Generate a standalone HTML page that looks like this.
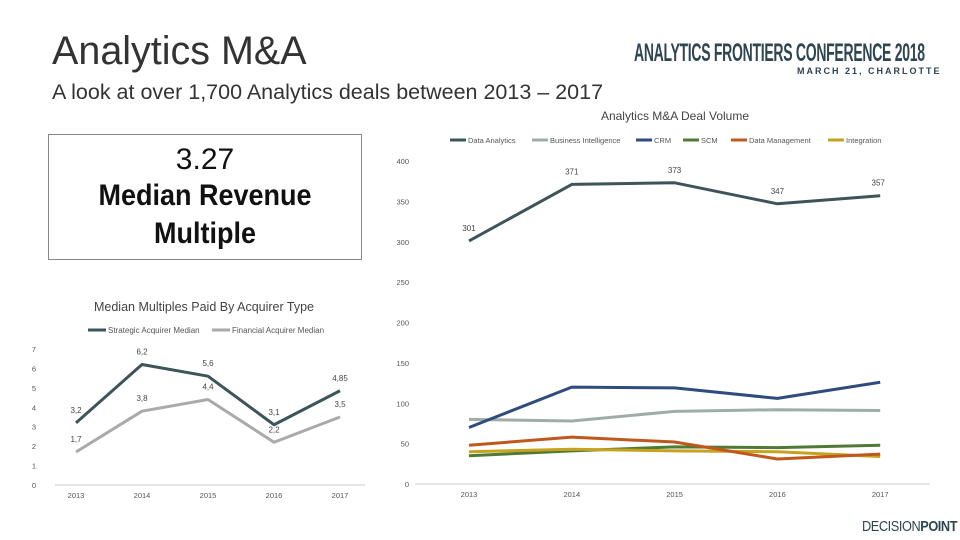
<!DOCTYPE html>
<html><head><meta charset="utf-8"><style>
body{margin:0;width:960px;height:540px;background:#fff;overflow:hidden;font-family:"Liberation Sans",sans-serif;position:relative}
.t{position:absolute;white-space:nowrap}
</style></head><body>
<div class="t" style="left:52px;top:29px;font-size:39.5px;color:#333">Analytics M&amp;A</div>
<div class="t" style="left:52px;top:80px;font-size:21.5px;color:#333">A look at over 1,700 Analytics deals between 2013 – 2017</div>
<div class="t" style="left:634px;top:39px;font-size:25px;font-weight:bold;color:#2f4550;letter-spacing:-0.5px;transform:scaleX(0.56);transform-origin:left">ANALYTICS FRONTIERS CONFERENCE 2018</div>
<div class="t" style="left:797px;top:66px;font-size:9px;font-weight:bold;color:#2f4550;letter-spacing:2px">MARCH 21, CHARLOTTE</div>
<div style="position:absolute;left:48px;top:134px;width:312px;height:124px;border:1px solid #888;text-align:center;color:#111">
<div style="font-size:30px;margin-top:8px">3.27</div>
<div style="font-size:30px;line-height:38px;font-weight:bold;transform:scaleX(0.9)">Median Revenue<br>Multiple</div>
</div>
<div class="t" style="left:862px;top:518px;font-size:15px;color:#2f4550;letter-spacing:-0.5px;transform:scaleX(0.85);transform-origin:left">DECISION<b>POINT</b></div>
<svg id="s" width="960" height="540" style="position:absolute;left:0;top:0" font-family="Liberation Sans, sans-serif"></svg>
<script>
const years=["2013","2014","2015","2016","2017"];
const strategic=[3.2,6.2,5.6,3.1,4.85];
const financial=[1.7,3.8,4.4,2.2,3.5];
const strategicLabels=["3,2","6,2","5,6","3,1","4,85"];
const financialLabels=["1,7","3,8","4,4","2,2","3,5"];
const leftTicks=[0,1,2,3,4,5,6,7];
const dataAnalytics=[301,371,373,347,357];
const bi=[80,78,90,92,91];
const crm=[70,120,119,106,126];
const scm=[35,41,46,45,48];
const dataMgmt=[48,58,52,31,37];
const integration=[40,43,41,40,34];
const rightTicks=[0,50,100,150,200,250,300,350,400];
const NS="http://www.w3.org/2000/svg";
const svg=document.getElementById('s');
function el(tag,attrs,txt){const e=document.createElementNS(NS,tag);for(const k in attrs)e.setAttribute(k,attrs[k]);if(txt!==undefined)e.textContent=txt;svg.appendChild(e);return e;}
const lx=i=>76+i*66, ly=v=>485-v*19.43;
el('text',{x:204,y:311,'font-size':12.5,fill:'#444','text-anchor':'middle'},'Median Multiples Paid By Acquirer Type');
let g;
g=el('line',{x1:88,y1:330,x2:106,y2:330,stroke:'#3e545b','stroke-width':3});
el('text',{x:108,y:333,'font-size':8,fill:'#555'},'Strategic Acquirer Median');
g=el('line',{x1:212,y1:330,x2:230,y2:330,stroke:'#aaa','stroke-width':3});
el('text',{x:232,y:333,'font-size':8,fill:'#555'},'Financial Acquirer Median');
el('line',{x1:55,y1:485,x2:365,y2:485,stroke:'#ccc'});
leftTicks.forEach(t=>{const e=el('text',{x:36,y:ly(t)+3,'font-size':7.5,fill:'#555','text-anchor':'end'},t);});
years.forEach((y,i)=>{const e=el('text',{x:lx(i),y:498,'font-size':7.5,fill:'#555','text-anchor':'middle'},y);});
function line(xf,yf,arr,color,w,name){const p=el('polyline',{points:arr.map((v,i)=>xf(i)+','+yf(v)).join(' '),fill:'none',stroke:color,'stroke-width':w,'stroke-linejoin':'round'});}
line(lx,ly,financial,'#aaa',3,'financial-line');
line(lx,ly,strategic,'#3e545b',3,'strategic-line');
strategic.forEach((v,i)=>{const e=el('text',{x:lx(i),y:ly(v)-10,'font-size':8,fill:'#444','text-anchor':'middle'},strategicLabels[i]);});
financial.forEach((v,i)=>{const e=el('text',{x:lx(i),y:ly(v)-10,'font-size':8,fill:'#444','text-anchor':'middle'},financialLabels[i]);});
const rx=i=>469+i*102.8, ry=v=>484-v*0.8075;
el('text',{x:675,y:120,'font-size':12,fill:'#444','text-anchor':'middle'},'Analytics M&A Deal Volume');
const series=[["Data Analytics",dataAnalytics,'#3e545b',450],["Business Intelligence",bi,'#9fada6',532],["CRM",crm,'#2e4c7e',636],["SCM",scm,'#4e7a35',683],["Data Management",dataMgmt,'#c0581e',731],["Integration",integration,'#c7a21f',828]];
series.forEach(s=>{g=el('line',{x1:s[3],y1:140,x2:s[3]+16,y2:140,stroke:s[2],'stroke-width':3});
const e=el('text',{x:s[3]+18,y:143,'font-size':7.5,fill:'#555'},s[0]);});
el('line',{x1:415,y1:484,x2:930,y2:484,stroke:'#ccc'});
rightTicks.forEach(t=>{const e=el('text',{x:409,y:ry(t)+3,'font-size':7.5,fill:'#555','text-anchor':'end'},t);});
years.forEach((y,i)=>{const e=el('text',{x:rx(i),y:497,'font-size':7.5,fill:'#555','text-anchor':'middle'},y);});
[bi,scm,integration,dataMgmt,crm].forEach(a=>{const s=series.find(q=>q[1]===a);line(rx,ry,a,s[2],3,s[0].toLowerCase().replace(/ /g,'-')+'-line');});
line(rx,ry,dataAnalytics,'#3e545b',3,'data-analytics-line');
dataAnalytics.forEach((v,i)=>{const e=el('text',{x:rx(i)+(i==4?-2:0),y:ry(v)-10,'font-size':8,fill:'#444','text-anchor':'middle'},v);});
</script>
</body></html>
